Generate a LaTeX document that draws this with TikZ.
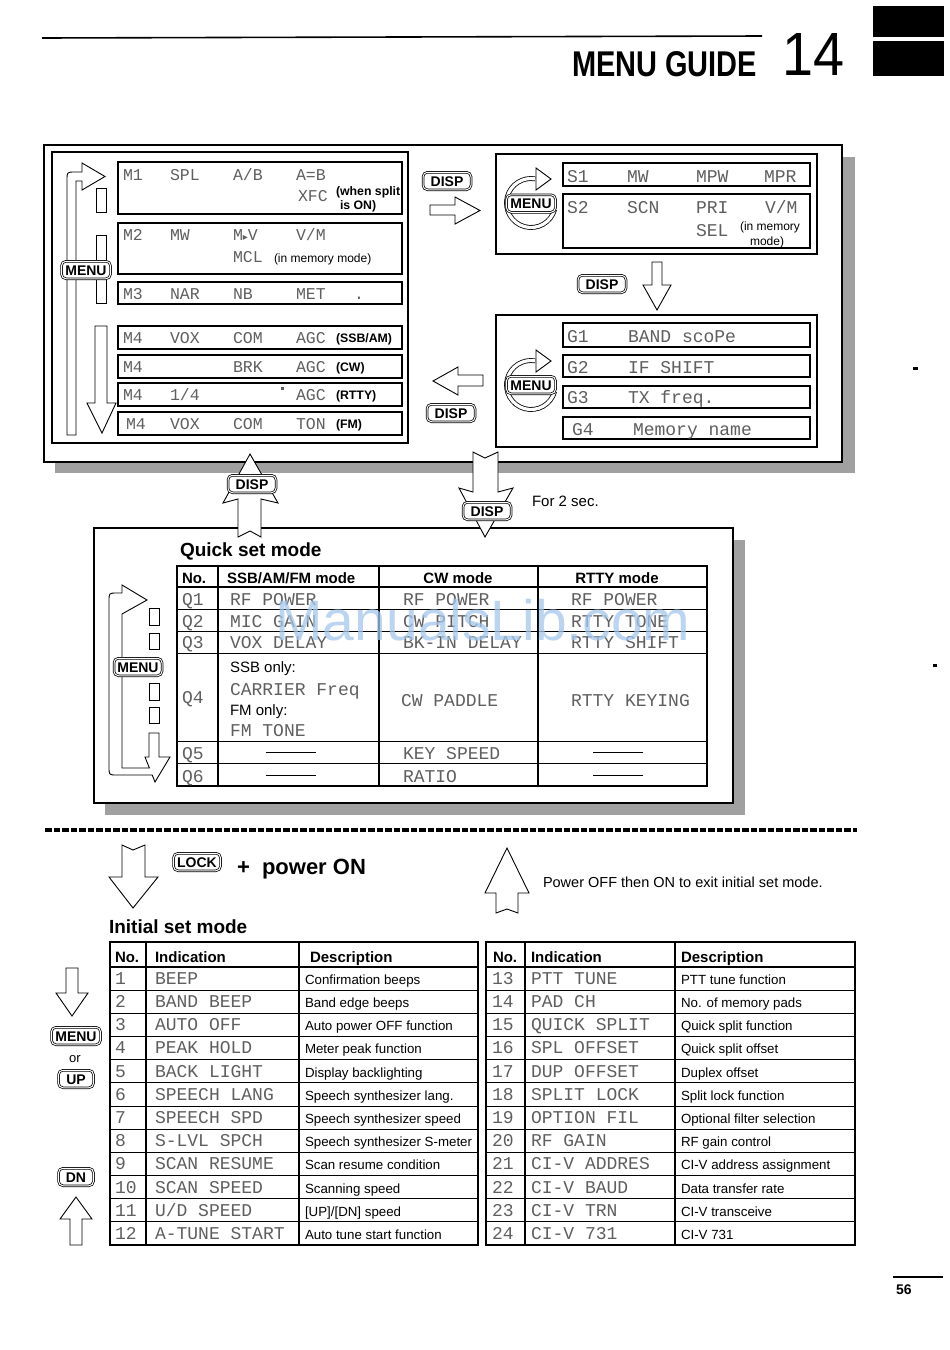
\documentclass[tikz,border=0pt]{standalone}
\usepackage{fontspec}
\usepackage{graphicx}
\setmainfont{Liberation Sans}
\newfontfamily\lcdfam{Liberation Mono}
\newfontfamily\dvsans{DejaVu Sans}
\definecolor{lcdcol}{RGB}{95,95,95}
\definecolor{wmcol}{RGB}{165,198,235}
\definecolor{shd}{RGB}{160,160,160}
\newcommand\lcdA{\lcdfam\fontsize{16.5}{16.5}\selectfont}
\newcommand\lcdB{\lcdfam\fontsize{18}{18}\selectfont}
\newcommand\fsz[1]{\fontsize{#1}{#1}\selectfont}
\tikzset{
  every node/.style={inner sep=0pt, outer sep=0pt},
  lcda/.style={font=\lcdA, text=lcdcol, anchor=base west},
  lcdb/.style={font=\lcdB, text=lcdcol, anchor=base west},
  note/.style={font=\fsz{12}, anchor=base west},
  bnote/.style={font=\bfseries\fsz{12.3}, anchor=base west},
  hdr/.style={font=\bfseries\fsz{15}, anchor=base west},
  desc/.style={font=\fsz{13.3}, anchor=base west},
  txt/.style={font=\fsz{15}, anchor=base west},
  btn/.style={draw, line width=0.75pt, double=white, double distance=1pt, rounded corners=4.5pt, fill=white, font=\bfseries\fsz{14}, minimum height=17.5pt, text height=10pt, text depth=0pt},
  barrow/.style={draw, fill=white, line width=0.9pt, line join=miter},
  rowbox/.style={draw, line width=1.1pt},
  boxframe/.style={draw, line width=1.6pt, fill=white},
  ring/.style={draw, line width=0.8pt, double=white, double distance=3.2pt},
  shadowband/.style={fill=shd},
}
\begin{document}
\begin{tikzpicture}[x=1pt,y=-1pt]
\useasboundingbox (0,0) rectangle (950,1350);
\fill[white] (0,0) rectangle (950,1350);

% ---------- header ----------
\draw[line width=1.6pt] (42,38) -- (762,36);
\node[anchor=south east] (title) at (757,77) {\resizebox{185pt}{25pt}{\bfseries MENU GUIDE}};
\node[anchor=south west] (chap) at (782,75) {\resizebox{62pt}{42pt}{14}};
\fill (873,6) rectangle (944,37);
\fill (873,41) rectangle (944,76);

% ---------- top box ----------
\fill[shadowband] (842,157) rectangle (855,473);
\fill[shadowband] (55,462) rectangle (855,473);
\draw[boxframe] (44,145) rectangle (842,462);
\draw[line width=1.3pt] (52,152) rectangle (408,443);
\foreach \t/\b in {162/214,223/274,282/304,326/349,355/378,383/406,412/435}
  \draw[rowbox] (118,\t) rectangle (402,\b);

\node[lcda] (m1a) at (123,180) {M1};
\node[lcda] (m1b) at (170,180) {SPL};
\node[lcda] (m1c) at (233,180) {A/B};
\node[lcda] (m1d) at (296,180) {A=B};
\node[lcda] (m1e) at (298,201) {XFC};
\node[bnote] (m1f) at (336,195) {(when split};
\node[bnote] (m1g) at (340,209) {is ON)};
\node[lcda] (m2a) at (123,240) {M2};
\node[lcda] (m2b) at (170,240) {MW};
\node[lcda] (m2c) at (233,240) {M{\dvsans\fsz{10}▸}V};
\node[lcda] (m2d) at (296,240) {V/M};
\node[lcda] (m2e) at (233,262) {MCL};
\node[note] (m2f) at (274,262) {(in memory mode)};
\node[lcda] (m3a) at (123,299) {M3};
\node[lcda] (m3b) at (170,299) {NAR};
\node[lcda] (m3c) at (233,299) {NB};
\node[lcda] (m3d) at (296,299) {MET};
\node[lcda] (m3e) at (354,299) {.};
\node[lcda] (m4a) at (123,343) {M4};
\node[lcda] (m4b) at (170,343) {VOX};
\node[lcda] (m4c) at (233,343) {COM};
\node[lcda] (m4d) at (296,343) {AGC};
\node[bnote] (m4e) at (336,342) {(SSB/AM)};
\node[lcda] (m5a) at (123,372) {M4};
\node[lcda] (m5c) at (233,372) {BRK};
\node[lcda] (m5d) at (296,372) {AGC};
\node[bnote] (m5e) at (336,371) {(CW)};
\node[lcda] (m6a) at (123,400) {M4};
\node[lcda] (m6b) at (170,400) {1/4};
\fill[lcdcol] (281,387) rectangle (284,390);
\node[lcda] (m6d) at (296,400) {AGC};
\node[bnote] (m6e) at (336,399) {(RTTY)};
\node[lcda] (m7a) at (126,429) {M4};
\node[lcda] (m7b) at (170,429) {VOX};
\node[lcda] (m7c) at (233,429) {COM};
\node[lcda] (m7d) at (296,429) {TON};
\node[bnote] (m7e) at (336,428) {(FM)};

% left loop arrows of M box
\draw[barrow] (76,435) -- (67,435) -- (67,180) .. controls (67,172) .. (75,172) -- (82,172) -- (82,163) -- (105,176.5) -- (82,190) -- (82,181) -- (76,181) -- cycle;
\draw[barrow] (96,188) rectangle (106,212);
\draw[barrow] (96,235) rectangle (106,303);
\draw[barrow] (95,326) -- (107,326) -- (107,403) -- (116,403) -- (102,433) -- (87,403) -- (95,403) -- cycle;
\node[btn, minimum width=49pt] (menuM) at (86,270) {MENU};

% DISP right arrow
\node[btn, minimum width=48pt] (disp1) at (447,181) {DISP};
\draw[barrow] (430,205) -- (455,205) -- (455,197) -- (480,210.5) -- (455,224) -- (455,215) -- (430,215) -- cycle;

% S box
\draw[line width=1.4pt] (496,154) rectangle (817,254);
\draw[rowbox] (563,163) rectangle (810,186);
\draw[rowbox] (563,194) rectangle (810,248);
\node[lcdb] (s1a) at (567,182) {S1};
\node[lcdb] (s1b) at (627,182) {MW};
\node[lcdb] (s1c) at (696,182) {MPW};
\node[lcdb] (s1d) at (764,182) {MPR};
\node[lcdb] (s2a) at (567,213) {S2};
\node[lcdb] (s2b) at (627,213) {SCN};
\node[lcdb] (s2c) at (696,213) {PRI};
\node[lcdb] (s2d) at (765,213) {V/M};
\node[lcdb] (s2e) at (696,236) {SEL};
\node[note] (s2f) at (740,230) {(in memory};
\node[note] (s2g) at (750,245) {mode)};
\draw[ring] (531,203) ++(15:24.5) arc[start angle=15, end angle=280, radius=24.5];
\draw[barrow] (536,168) -- (551,179) -- (536,190) -- cycle;
\node[btn, minimum width=49pt] (menuS) at (531,203.5) {MENU};

% DISP down arrow S -> G
\node[btn, minimum width=48pt] (disp2) at (602,284) {DISP};
\draw[barrow] (652,262) -- (662,262) -- (662,285) -- (671,285) -- (657,310) -- (643,285) -- (652,285) -- cycle;

% G box
\draw[line width=1.4pt] (496,315) rectangle (817,447);
\foreach \t/\b in {323/347,355/377,386/408,417/439}
  \draw[rowbox] (563,\t) rectangle (810,\b);
\node[lcdb] (g1a) at (567,342) {G1};
\node[lcdb] (g1b) at (628,342) {BAND scoPe};
\node[lcdb] (g2a) at (567,373) {G2};
\node[lcdb] (g2b) at (628,373) {IF SHIFT};
\node[lcdb] (g3a) at (567,403) {G3};
\node[lcdb] (g3b) at (628,403) {TX freq.};
\node[lcdb] (g4a) at (572,435) {G4};
\node[lcdb] (g4b) at (633,435) {Memory name};
\draw[ring] (531,385) ++(15:24.5) arc[start angle=15, end angle=280, radius=24.5];
\draw[barrow] (536,350) -- (551,361) -- (536,372) -- cycle;
\node[btn, minimum width=49pt] (menuG) at (531,385) {MENU};

% DISP left arrow G -> M
\draw[barrow] (483,375) -- (458,375) -- (458,367) -- (433,381) -- (458,395) -- (458,386) -- (483,386) -- cycle;
\node[btn, minimum width=48pt] (disp3) at (451,413) {DISP};

% ---------- quick set box ----------
\fill[shadowband] (733,540) rectangle (745,815);
\fill[shadowband] (105,803) rectangle (745,815);
\draw[boxframe] (94,528) rectangle (733,803);

% arrows between boxes
\draw[barrow] (250,454) -- (278,503) -- (261,499) -- (261,537) -- (250,531) -- (238,537) -- (238,499) -- (223,503) -- cycle;
\node[btn, minimum width=48pt] (disp4) at (252,484) {DISP};
\draw[barrow] (473,452) -- (485,458) -- (498,452) -- (498,492) -- (513,488) -- (485,537) -- (459,488) -- (473,492) -- cycle;
\node[btn, minimum width=48pt] (disp5) at (487,511) {DISP};
\node[txt] (for2) at (532,506) {For 2 sec.};

\node[font=\bfseries\fsz{19}, anchor=base west] (qtitle) at (180,556) {Quick set mode};
\draw[line width=1.6pt] (177,566) rectangle (707,786);
\draw[line width=1.4pt] (177,587) -- (707,587);
\foreach \y in {609,631,653,741,763} \draw[line width=0.9pt] (177,\y) -- (707,\y);
\foreach \x in {218,379,538} \draw[line width=1.1pt] (\x,566) -- (\x,786);
\node[hdr] (qh0) at (182,583) {No.};
\node[hdr] (qh1) at (227,583) {SSB/AM/FM mode};
\node[hdr, anchor=base] (qh2) at (458,583) {CW mode};
\node[hdr, anchor=base] (qh3) at (617,583) {RTTY mode};
\foreach \q/\a/\b/\c/\yy in {Q1/{RF POWER}/{RF POWER}/{RF POWER}/605, Q2/{MIC GAIN}/{CW PITCH}/{RTTY TONE}/627, Q3/{VOX DELAY}/{BK-IN DELAY}/{RTTY SHIFT}/648}{
  \node[lcdb] (\q n) at (182,\yy) {\q};
  \node[lcdb] (\q a) at (230,\yy) {\a};
  \node[lcdb] (\q b) at (403,\yy) {\b};
  \node[lcdb] (\q c) at (571,\yy) {\c};
}
\node[lcdb] (q4n) at (182,703) {Q4};
\node[txt] (q4s) at (230,672) {SSB only:};
\node[lcdb] (q4a) at (230,695) {CARRIER Freq};
\node[txt] (q4f) at (230,715) {FM only:};
\node[lcdb] (q4t) at (230,736) {FM TONE};
\node[lcdb] (q4b) at (401,706) {CW PADDLE};
\node[lcdb] (q4c) at (571,706) {RTTY KEYING};
\node[lcdb] (q5n) at (182,759) {Q5};
\node[lcdb] (q5b) at (403,759) {KEY SPEED};
\node[lcdb] (q6n) at (182,782) {Q6};
\node[lcdb] (q6b) at (403,782) {RATIO};
\foreach \y in {752,775} {
  \draw[line width=1pt] (266,\y) -- (316,\y);
  \draw[line width=1pt] (593,\y) -- (643,\y);
}
% quick set loop arrow
\draw[barrow] (122,585) -- (147,600) -- (122,614) -- (122,768) -- (149.4,768) -- (145,757) -- (149,757) -- (149,733) -- (159,733) -- (159,757) -- (170,757) -- (155,782) -- (152.2,775) -- (117,775) .. controls (109,775) .. (109,767) -- (109,601) .. controls (109,593) .. (117,593) -- (122,593) -- cycle;
\foreach \t/\b in {608/625,633/649,683/700,707/723}
  \draw[barrow] (149,\t) rectangle (159,\b);
\node[btn, minimum width=48pt] (menuQ) at (138,667) {MENU};

% watermark
\node[font=\fsz{57}, text=wmcol, text opacity=0.75, anchor=base] (wm) at (483,640) {ManualsLib.com};

% ---------- separator ----------
\draw[line width=3.4pt, dash pattern=on 6.5pt off 2pt] (45,830) -- (857,830);

% ---------- initial set mode ----------
\draw[barrow] (122,845) -- (133,850) -- (145,845) -- (145,877) -- (158,877) -- (133,908) -- (109,877) -- (122,877) -- cycle;
\node[btn, minimum width=47pt] (lock) at (197,862) {LOCK};
\node[font=\bfseries\fsz{22}, anchor=base west] (plus) at (237,874) {+};
\node[font=\bfseries\fsz{22}, anchor=base west] (pwr) at (262,874) {power ON};
\draw[barrow] (507,848) -- (529,893) -- (518,893) -- (518,913) -- (507,909) -- (496,913) -- (496,893) -- (485,893) -- cycle;
\node[font=\fsz{14.5}, anchor=base west] (exit) at (543,887) {Power OFF then ON to exit initial set mode.};
\node[font=\bfseries\fsz{19}, anchor=base west] (ititle) at (109,933) {Initial set mode};

\draw[line width=1.6pt] (110,942) rectangle (478,1245);
\draw[line width=1.6pt] (486,942) rectangle (855,1245);
\draw[line width=1.4pt] (110,967) -- (478,967);
\draw[line width=1.4pt] (486,967) -- (855,967);
\foreach \k in {1,...,11} {
  \pgfmathsetmacro\yl{967+23.17*\k}
  \draw[line width=0.9pt] (110,\yl) -- (478,\yl);
  \draw[line width=0.9pt] (486,\yl) -- (855,\yl);
}
\foreach \x in {146,299,525,675} \draw[line width=1.1pt] (\x,942) -- (\x,1245);
\node[hdr] (ih0) at (115,962) {No.};
\node[hdr] (ih1) at (155,962) {Indication};
\node[hdr] (ih2) at (310,962) {Description};
\node[hdr] (jh0) at (493,962) {No.};
\node[hdr] (jh1) at (531,962) {Indication};
\node[hdr] (jh2) at (681,962) {Description};
\foreach \n/\ind/\des [count=\k] in {1/BEEP/{Confirmation beeps}, 2/{BAND BEEP}/{Band edge beeps}, 3/{AUTO OFF}/{Auto power OFF function}, 4/{PEAK HOLD}/{Meter peak function}, 5/{BACK LIGHT}/{Display backlighting}, 6/{SPEECH LANG}/{Speech synthesizer lang.}, 7/{SPEECH SPD}/{Speech synthesizer speed}, 8/{S-LVL SPCH}/{Speech synthesizer S-meter}, 9/{SCAN RESUME}/{Scan resume condition}, 10/{SCAN SPEED}/{Scanning speed}, 11/{U/D SPEED}/{[UP]/[DN] speed}, 12/{A-TUNE START}/{Auto tune start function}}{
  \pgfmathsetmacro\yb{967+23.17*\k-5.7}
  \node[lcdb] (in\k) at (115,\yb) {\n};
  \node[lcdb] (ii\k) at (155,\yb) {\ind};
  \node[desc] (id\k) at (305,\yb) {\des};
}
\foreach \n/\ind/\des [count=\k] in {13/{PTT TUNE}/{PTT tune function}, 14/{PAD CH}/{No. of memory pads}, 15/{QUICK SPLIT}/{Quick split function}, 16/{SPL OFFSET}/{Quick split offset}, 17/{DUP OFFSET}/{Duplex offset}, 18/{SPLIT LOCK}/{Split lock function}, 19/{OPTION FIL}/{Optional filter selection}, 20/{RF GAIN}/{RF gain control}, 21/{CI-V ADDRES}/{CI-V address assignment}, 22/{CI-V BAUD}/{Data transfer rate}, 23/{CI-V TRN}/{CI-V transceive}, 24/{CI-V 731}/{CI-V 731}}{
  \pgfmathsetmacro\yb{967+23.17*\k-5.7}
  \node[lcdb] (jn\k) at (492,\yb) {\n};
  \node[lcdb] (ji\k) at (531,\yb) {\ind};
  \node[desc] (jd\k) at (681,\yb) {\des};
}

% left keys of initial set
\draw[barrow] (66,968) -- (78,968) -- (78,993) -- (88,993) -- (72,1016) -- (56,993) -- (66,993) -- cycle;
\node[btn, minimum width=49pt] (menuI) at (76,1036) {MENU};
\node[font=\fsz{13}, anchor=base] (or) at (75,1062) {or};
\node[btn, minimum width=35pt] (up) at (76,1079) {UP};
\node[btn, minimum width=35pt] (dn) at (76,1177) {DN};
\draw[barrow] (76,1197) -- (92,1219) -- (82,1219) -- (82,1245) -- (70,1245) -- (70,1219) -- (60,1219) -- cycle;

% page number
\draw[line width=1.5pt] (893,1277) -- (943,1277);
\node[font=\bfseries\fsz{14}, anchor=base west] (page) at (896,1294) {56};
\fill (913,367) rectangle (918,369.5);
\fill (933,664) rectangle (937,666.5);
\end{tikzpicture}
\end{document}
